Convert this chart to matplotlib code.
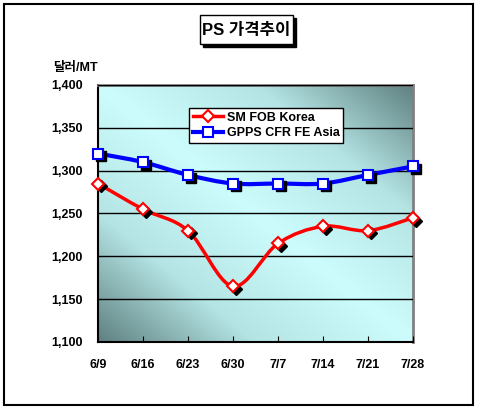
import numpy as np
import matplotlib.pyplot as plt
from matplotlib.path import Path
from matplotlib.patches import PathPatch, Rectangle
from matplotlib.colors import LinearSegmentedColormap
from matplotlib.transforms import offset_copy

plt.rcParams['font.family'] = ['Liberation Sans', 'Noto Sans CJK KR', 'DejaVu Sans']
plt.rcParams['font.weight'] = 'bold'

# data
dates = ['6/9', '6/16', '6/23', '6/30', '7/7', '7/14', '7/21', '7/28']
sm_fob = [1285, 1255, 1230, 1165, 1215, 1235, 1230, 1245]
gpps_cfr = [1320, 1310, 1295, 1285, 1285, 1285, 1295, 1305]
yticks = [1100, 1150, 1200, 1250, 1300, 1350, 1400]

W, H = 479, 413
fig = plt.figure(figsize=(W / 100, H / 100), dpi=100)
fig.patch.set_facecolor('white')

# axes box in pixels: left 98, right 413, top 85, bottom 342
ax = fig.add_axes([98 / W, 1 - 342 / H, 315 / W, 257 / H])

# diagonal gradient background (dark top-right & bottom-left, light in between)
gx, gy = np.meshgrid(np.linspace(0, 1, 300), np.linspace(1, 0, 300))
g = np.abs(gx + gy - 1.0)
cmap = LinearSegmentedColormap.from_list('bg', ['#ccfcfc', '#b4e4e4', '#5f8080'])
ax.imshow(g, cmap=cmap, extent=[0, 1, 0, 1], transform=ax.transAxes,
          aspect='auto', zorder=0, vmin=0, vmax=1)

x = np.arange(len(dates))
ax.set_xlim(0, len(dates) - 1)
ax.set_ylim(1100, 1400)


def smooth_path(xs, ys, sx, sy):
    # Catmull-Rom style bezier, computed in pixel-like space
    px = np.asarray(xs, float) * sx
    py = np.asarray(ys, float) * sy
    verts = [(px[0], py[0])]
    codes = [Path.MOVETO]
    n = len(px)
    for i in range(n - 1):
        p0 = (px[max(i - 1, 0)], py[max(i - 1, 0)])
        p1 = (px[i], py[i])
        p2 = (px[i + 1], py[i + 1])
        p3 = (px[min(i + 2, n - 1)], py[min(i + 2, n - 1)])
        c1 = (p1[0] + (p2[0] - p0[0]) / 6, p1[1] + (p2[1] - p0[1]) / 6)
        c2 = (p2[0] - (p3[0] - p1[0]) / 6, p2[1] - (p3[1] - p1[1]) / 6)
        verts += [c1, c2, p2]
        codes += [Path.CURVE4] * 3
    verts = [(a / sx, b / sy) for a, b in verts]
    return Path(verts, codes)


sx = 315 / 7
sy = 257 / 300
series = [(sm_fob, 'red', 'D', 6, 2.5, 'SM FOB Korea'),
          (gpps_cfr, '#0000ff', 's', 7, 3, 'GPPS CFR FE Asia')]
for vals, col, mk, ms, lw, lab in series:
    ax.add_patch(PathPatch(smooth_path(x, vals, sx, sy), facecolor='none',
                           edgecolor=col, lw=lw, zorder=3))
    shadow = offset_copy(ax.transData, fig=fig, x=2, y=-2, units='points')
    ax.plot(x, vals, linestyle='none', marker=mk, ms=ms, color='black',
            transform=shadow, zorder=4, clip_on=False)
    ax.plot(x, vals, linestyle='none', marker=mk, ms=ms, mfc='white',
            mec=col, mew=1.5, zorder=5, clip_on=False)
    ax.plot([], [], color=col, lw=lw, marker=mk, ms=ms, mfc='white',
            mec=col, mew=1.5, label=lab)

ax.set_yticks(yticks)
ax.set_yticklabels([f'{v:,}' for v in yticks], fontsize=9, fontweight='bold')
ax.set_xticks(x)
ax.set_xticklabels(dates, fontsize=9, fontweight='bold')
ax.tick_params(axis='y', length=0, pad=11)
ax.tick_params(axis='x', direction='in', length=4, pad=12, color='black')
ax.grid(axis='y', color='black', lw=1)
ax.set_axisbelow(False)
for s in ['left', 'bottom']:
    ax.spines[s].set_color('black')
    ax.spines[s].set_linewidth(1.5)
for s in ['top', 'right']:
    ax.spines[s].set_color('#808080')
    ax.spines[s].set_linewidth(2)

leg = ax.legend(loc='upper left', bbox_to_anchor=(0.27, 0.935), fancybox=False,
                edgecolor='black', framealpha=1, fontsize=9, handlelength=2.4,
                borderpad=0.3, labelspacing=0.3, handletextpad=0.3)
leg.get_frame().set_linewidth(1)
for t in leg.get_texts():
    t.set_fontweight('bold')

# y unit label
fig.text(53 / W, 1 - 68 / H, '달러/MT', fontsize=9, fontweight='bold',
         ha='left', va='center')

# title box with shadow
fig.add_artist(Rectangle((203 / W, 1 - 47 / H), 93 / W, 29 / H,
                         transform=fig.transFigure, facecolor='black',
                         edgecolor='black'))
fig.add_artist(Rectangle((200 / W, 1 - 44 / H), 93 / W, 29 / H,
                         transform=fig.transFigure, facecolor='white',
                         edgecolor='black', lw=1))
fig.text(246.5 / W, 1 - 30 / H, 'PS 가격추이', fontsize=12, fontweight='bold',
         ha='center', va='center')

# outer border
fig.add_artist(Rectangle((4 / W, 1 - 405 / H), 469 / W, 401 / H,
                         transform=fig.transFigure, facecolor='none',
                         edgecolor='black', lw=1.5))

fig.savefig('out.png', dpi=100)
